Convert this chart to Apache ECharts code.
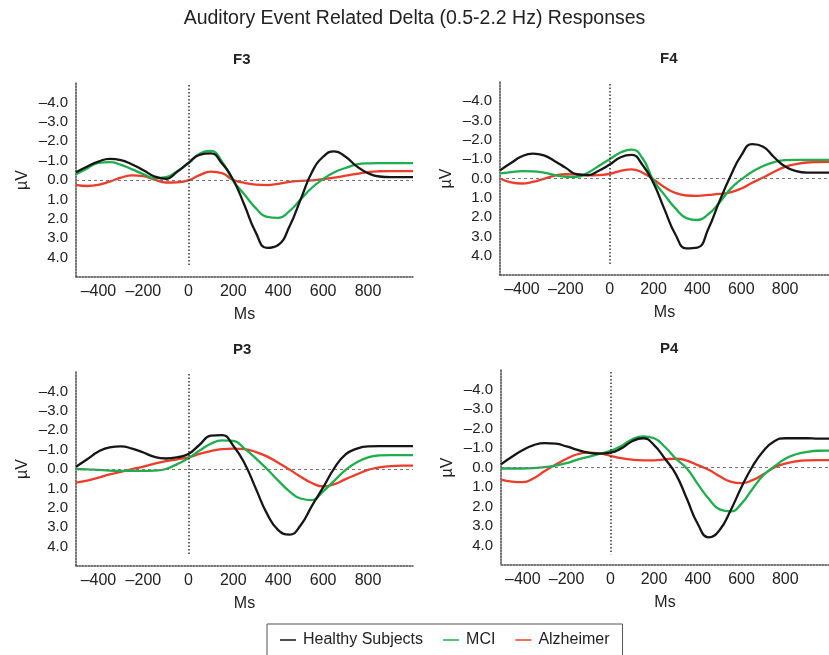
<!DOCTYPE html>
<html>
<head>
<meta charset="utf-8">
<script src="https://cdn.jsdelivr.net/npm/echarts@6/dist/echarts.min.js"></script>
<style>
  html, body { margin: 0; padding: 0; background: #fff; }
  #main { width: 829px; height: 655px; }
</style>
</head>
<body>
<div id="main"></div>
<script>
// time points (ms), every 50 ms
var msPoints = [-500, -450, -400, -350, -300, -250, -200, -150, -100, -50,
  0, 50, 100, 150, 200, 250, 300, 350, 400, 450,
  500, 550, 600, 650, 700, 750, 800, 850, 900, 950, 1000];

var xTickLabels = [-400, -200, 0, 200, 400, 600, 800];
var yTickLabels = [-4, -3, -2, -1, 0, 1, 2, 3, 4];
var groupNames = ['Healthy Subjects', 'MCI', 'Alzheimer'];
var panelNames = ['F3', 'F4', 'P3', 'P4'];

// F3
var f3Healthy = [-0.40, -0.70, -0.95, -1.09, -1.02, -0.80, -0.50, -0.18, -0.06, -0.42,
  -0.88, -1.30, -1.37, -0.85, 0.00, 1.30, 2.70, 3.50, 3.35, 2.40,
  1.00, -0.40, -1.20, -1.48, -1.20, -0.70, -0.35, -0.18, -0.15, -0.15, -0.15];
var f3Mci = [-0.30, -0.60, -0.88, -0.92, -0.78, -0.55, -0.30, -0.10, -0.15, -0.45,
  -0.85, -1.35, -1.50, -0.95, 0.05, 0.75, 1.45, 1.90, 1.95, 1.60,
  1.00, 0.40, -0.05, -0.40, -0.62, -0.80, -0.86, -0.87, -0.87, -0.87, -0.87];
var f3Alz = [0.25, 0.31, 0.25, 0.08, -0.12, -0.24, -0.20, -0.02, 0.13, 0.12,
  0.02, -0.25, -0.43, -0.35, 0.00, 0.15, 0.24, 0.26, 0.20, 0.10,
  0.05, 0.02, -0.05, -0.12, -0.22, -0.32, -0.41, -0.45, -0.46, -0.46, -0.46];

// F4
var f4Healthy = [-0.42, -0.80, -1.15, -1.29, -1.20, -0.90, -0.55, -0.22, -0.18, -0.40,
  -0.72, -1.10, -1.22, -0.70, 0.25, 1.60, 2.90, 3.62, 3.58, 2.60,
  1.20, -0.10, -1.20, -1.78, -1.65, -1.10, -0.62, -0.38, -0.30, -0.30, -0.30];
var f4Mci = [-0.26, -0.33, -0.38, -0.37, -0.30, -0.18, -0.09, -0.08, -0.30, -0.65,
  -1.00, -1.35, -1.50, -1.05, 0.10, 0.85, 1.55, 2.05, 2.15, 1.85,
  1.25, 0.55, 0.05, -0.35, -0.65, -0.85, -0.95, -0.97, -0.97, -0.97, -0.97];
var f4Alz = [0.00, 0.20, 0.26, 0.18, 0.02, -0.15, -0.22, -0.20, -0.16, -0.18,
  -0.24, -0.40, -0.47, -0.30, 0.05, 0.45, 0.75, 0.88, 0.90, 0.85,
  0.80, 0.72, 0.52, 0.22, -0.05, -0.35, -0.60, -0.75, -0.83, -0.85, -0.86];

// P3
var p3Healthy = [-0.12, -0.50, -0.90, -1.12, -1.17, -1.05, -0.85, -0.62, -0.54, -0.60,
  -0.77, -1.25, -1.72, -1.75, -1.20, -0.30, 1.00, 2.30, 3.15, 3.38,
  2.90, 1.90, 0.95, -0.05, -0.75, -1.05, -1.17, -1.18, -1.18, -1.18, -1.18];
var p3Mci = [0.00, 0.02, 0.05, 0.08, 0.10, 0.10, 0.10, 0.08, 0.00, -0.25,
  -0.55, -0.95, -1.30, -1.48, -1.45, -1.05, -0.55, 0.00, 0.60, 1.15,
  1.52, 1.60, 1.15, 0.60, 0.05, -0.35, -0.60, -0.70, -0.72, -0.72, -0.72];
var p3Alz = [0.70, 0.60, 0.45, 0.28, 0.15, 0.00, -0.12, -0.28, -0.40, -0.50,
  -0.60, -0.78, -0.92, -1.02, -1.05, -1.02, -0.88, -0.65, -0.32, 0.03,
  0.40, 0.72, 0.90, 0.78, 0.52, 0.28, 0.05, -0.08, -0.15, -0.17, -0.17];

// P4
var p4Healthy = [-0.16, -0.55, -0.90, -1.15, -1.25, -1.22, -1.08, -0.90, -0.76, -0.71,
  -0.76, -0.98, -1.35, -1.50, -1.15, -0.45, 0.35, 1.60, 2.90, 3.58,
  3.20, 2.20, 1.00, -0.05, -0.85, -1.35, -1.50, -1.50, -1.50, -1.48, -1.48];
var p4Mci = [0.05, 0.05, 0.05, 0.03, -0.02, -0.10, -0.22, -0.40, -0.55, -0.70,
  -0.85, -1.10, -1.45, -1.60, -1.50, -1.05, -0.45, 0.05, 0.85, 1.60,
  2.15, 2.25, 1.85, 1.10, 0.40, -0.05, -0.45, -0.68, -0.80, -0.86, -0.87];
var p4Alz = [0.62, 0.72, 0.75, 0.55, 0.18, -0.15, -0.45, -0.68, -0.76, -0.72,
  -0.60, -0.48, -0.40, -0.37, -0.37, -0.42, -0.45, -0.35, -0.12, 0.12,
  0.45, 0.72, 0.80, 0.65, 0.35, 0.00, -0.20, -0.32, -0.37, -0.38, -0.38];

var panelData = [
  [f3Healthy, f3Mci, f3Alz],
  [f4Healthy, f4Mci, f4Alz],
  [p3Healthy, p3Mci, p3Alz],
  [p4Healthy, p4Mci, p4Alz]
];

var colors = ['#161616', '#1fae4e', '#ec3d2b'];
var font = 'Liberation Sans, Arial, sans-serif';

// plot areas (pixels) for F3, F4, P3, P4
var grids = [
  {left: 76, top: 83, width: 337, height: 194},
  {left: 500, top: 82, width: 337, height: 193},
  {left: 76, top: 372, width: 337, height: 194},
  {left: 501, top: 370, width: 337, height: 195}
];
var panelTitlePos = [[228, 47], [655, 46], [228, 337], [655, 336]];

function pairs(arr) {
  var out = [];
  for (var i = 0; i < msPoints.length; i++) {
    out.push([msPoints[i], arr[i]]);
  }
  return out;
}

function fmtNum(v) {
  var s = Math.abs(v).toFixed(1);
  return v < 0 ? '\u2013' + s : s;
}

var option = {
  backgroundColor: '#fff',
  animation: false,
  color: colors,
  title: [{
    text: 'Auditory Event Related Delta (0.5-2.2 Hz) Responses',
    left: 'center',
    top: 4,
    textStyle: {fontFamily: font, fontSize: 19.5, fontWeight: 'normal', color: '#222'}
  }],
  legend: {
    data: groupNames,
    left: 267,
    top: 624,
    orient: 'horizontal',
    icon: 'rect',
    itemWidth: 16,
    itemHeight: 1.5,
    itemGap: 20,
    padding: [8, 13, 20, 13],
    borderColor: '#555',
    borderWidth: 1,
    textStyle: {fontFamily: font, fontSize: 16, color: '#222', padding: [0, 0, 0, 2]}
  },
  grid: [],
  xAxis: [],
  yAxis: [],
  series: []
};

for (var p = 0; p < 4; p++) {
  var g = grids[p];
  option.grid.push(g);
  option.title.push({
    text: panelNames[p],
    left: panelTitlePos[p][0],
    top: panelTitlePos[p][1],
    textStyle: {fontFamily: font, fontSize: 15, fontWeight: 'bold', color: '#222'}
  });
  option.xAxis.push({
    type: 'value',
    gridIndex: p,
    min: -500,
    max: 1000,
    interval: 100,
    name: 'Ms',
    nameLocation: 'middle',
    nameGap: 30,
    nameTextStyle: {fontFamily: font, fontSize: 16, color: '#222'},
    axisLine: {show: true, onZero: false, lineStyle: {color: '#444', width: 1.5, type: 'dotted'}},
    axisTick: {show: false},
    splitLine: {show: false},
    axisLabel: {
      customValues: xTickLabels,
      margin: 7,
      fontFamily: font,
      fontSize: 16,
      color: '#222',
      formatter: function (v) { return v < 0 ? '\u2013' + Math.abs(v) : String(v); }
    }
  });
  option.yAxis.push({
    type: 'value',
    gridIndex: p,
    inverse: true,
    min: -5,
    max: 5,
    interval: 1,
    name: '\u00b5V',
    nameLocation: 'middle',
    nameGap: 45,
    nameRotate: 90,
    nameTextStyle: {fontFamily: font, fontSize: 16, color: '#222'},
    axisLine: {show: true, onZero: false, lineStyle: {color: '#444', width: 1.5, type: 'dotted'}},
    axisTick: {show: false},
    splitLine: {show: false},
    axisLabel: {
      customValues: yTickLabels,
      margin: 8,
      fontFamily: font,
      fontSize: 15,
      color: '#222',
      formatter: fmtNum
    }
  });
  for (var s = 0; s < 3; s++) {
    var ser = {
      name: groupNames[s],
      type: 'line',
      xAxisIndex: p,
      yAxisIndex: p,
      data: pairs(panelData[p][s]),
      smooth: 0.5,
      showSymbol: false,
      z: 5 - s,
      lineStyle: {width: 2.3, color: colors[s]},
      itemStyle: {color: colors[s]}
    };
    if (s === 0) {
      // zero baseline and stimulus onset line
      ser.markLine = {
        silent: true,
        symbol: 'none',
        label: {show: false},
        data: [
          [{coord: [-500, 0], lineStyle: {color: '#777', width: 1, type: [3, 3]}}, {coord: [1000, 0]}],
          [{coord: [0, -4.9], lineStyle: {color: '#333', width: 1.5, type: [1.5, 2]}}, {coord: [0, 4.45]}]
        ]
      };
    }
    option.series.push(ser);
  }
}

var chart = echarts.init(document.getElementById('main'));
chart.setOption(option);
</script>
</body>
</html>
